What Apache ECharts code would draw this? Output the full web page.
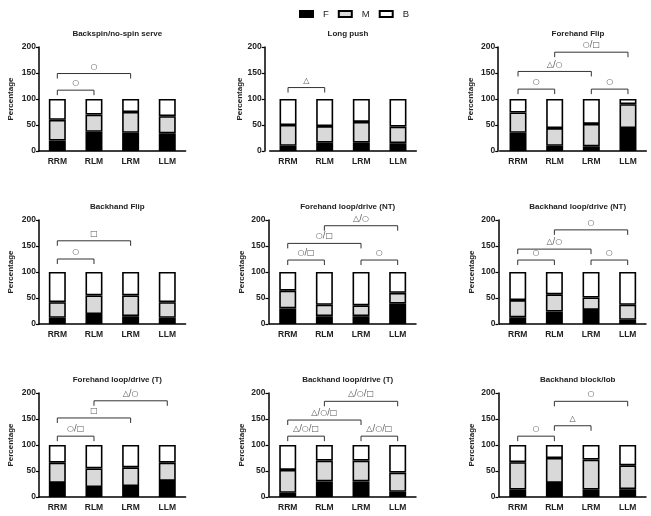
<!DOCTYPE html>
<html>
<head>
<meta charset="utf-8">
<script src="https://cdn.jsdelivr.net/npm/echarts@6/dist/echarts.min.js"></script>
<style>
  html, body { margin: 0; padding: 0; background: #fff; }
  #main { width: 651px; height: 516px; }
</style>
</head>
<body>
<div id="main"></div>
<script>
const categories = ['RRM', 'RLM', 'LRM', 'LLM'];
const yTicks = [0, 50, 100, 150, 200];
const panelTitles = [
  'Backspin/no-spin serve', 'Long push', 'Forehand Flip',
  'Backhand Flip', 'Forehand loop/drive (NT)', 'Backhand loop/drive (NT)',
  'Forehand loop/drive (T)', 'Backhand loop/drive (T)', 'Backhand block/lob'
];

// F / M / B percentages, one row per panel
const fValues = [
  [20, 37, 35, 34],
  [10, 16, 16, 15],
  [35, 10, 9, 44],
  [12, 19, 15, 12],
  [30, 15, 15, 39],
  [13, 24, 27, 8],
  [27, 19, 21, 31],
  [8, 30, 30, 10],
  [14, 27, 14, 15]
];
const mValues = [
  [40, 33, 40, 33],
  [40, 32, 40, 32],
  [39, 34, 43, 46],
  [30, 36, 40, 30],
  [34, 22, 21, 21],
  [33, 33, 24, 29],
  [39, 36, 36, 35],
  [44, 40, 40, 37],
  [53, 48, 58, 46]
];
const bValues = [
  [40, 30, 25, 33],
  [50, 52, 44, 53],
  [26, 56, 48, 10],
  [58, 45, 45, 58],
  [36, 63, 64, 40],
  [54, 43, 49, 63],
  [34, 45, 43, 34],
  [48, 30, 30, 53],
  [33, 25, 28, 39]
];

// significance brackets: [from category, to category, level, marks]
const brackets = [
  [[0, 1, 117, '○'], [0, 2, 149, '○']],
  [[0, 1, 122, '△']],
  [[0, 1, 119, '○'], [2, 3, 119, '○'], [0, 2, 153, '△/○'], [1, 3, 190, '○/□']],
  [[0, 1, 125, '○'], [0, 2, 160, '□']],
  [[0, 1, 123, '○/□'], [2, 3, 123, '○'], [0, 2, 155, '○/□'], [1, 3, 189, '△/○']],
  [[0, 1, 123, '○'], [2, 3, 123, '○'], [0, 2, 144, '△/○'], [1, 3, 181, '○']],
  [[0, 1, 117, '○/□'], [0, 2, 152, '□'], [1, 3, 185, '△/○']],
  [[0, 1, 117, '△/○/□'], [2, 3, 117, '△/○/□'], [0, 2, 148, '△/○/□'], [1, 3, 184, '△/○/□']],
  [[0, 1, 117, '○'], [1, 2, 137, '△'], [1, 3, 184, '○']]
];

const FONT = 'Liberation Sans, Arial, sans-serif';
const rowTops = [47, 220, 393];
const colLefts = [[39, 269.7, 499.7], [39, 269.4, 499.4], [39, 269.4, 499.4]];
const axisOffsets = [[0, 5, 1.5], [0, 1, 1], [0, 1, 1]];
const nameGaps = [[24, 20, 23], [24, 23, 23], [24, 23, 23]];
const gridW = 146.6;
const gridH = 104;

const grids = [], xAxes = [], yAxes = [], titles = [], series = [];

panelTitles.forEach((t, p) => {
  const r = Math.floor(p / 3), c = p % 3;
  const left = colLefts[r][c];
  grids.push({ left: left, top: rowTops[r], width: gridW, height: gridH });
  titles.push({
    text: t,
    left: left + gridW / 2,
    top: rowTops[r] - 22,
    textAlign: 'center',
    textStyle: { fontSize: 8, fontWeight: 'bold', color: '#222', fontFamily: FONT }
  });
  xAxes.push({
    gridIndex: p,
    type: 'category',
    data: categories,
    axisLine: { lineStyle: { color: '#000', width: 1.5 } },
    axisTick: { show: false },
    axisLabel: { fontSize: 8.5, fontWeight: 'bold', color: '#222', margin: 6, fontFamily: FONT }
  });
  yAxes.push({
    gridIndex: p,
    type: 'value',
    min: yTicks[0],
    max: yTicks[yTicks.length - 1],
    interval: 50,
    offset: axisOffsets[r][c],
    name: 'Percentage',
    nameLocation: 'middle',
    nameGap: nameGaps[r][c],
    nameTextStyle: { fontSize: 8, fontWeight: 'bold', color: '#222', fontFamily: FONT },
    axisLine: { show: true, lineStyle: { color: '#000', width: 1.5 } },
    axisTick: { show: true, length: 3, lineStyle: { color: '#000', width: 1.2 } },
    axisLabel: { fontSize: 8.5, fontWeight: 'bold', color: '#222', margin: 3, fontFamily: FONT },
    splitLine: { show: false }
  });

  const barBase = {
    type: 'bar',
    xAxisIndex: p,
    yAxisIndex: p,
    stack: 'p' + p,
    barWidth: 17,
    animation: false
  };
  series.push(Object.assign({}, barBase, {
    name: 'F', data: fValues[p],
    itemStyle: { color: '#000', borderColor: '#000', borderWidth: 1.6 }
  }));
  series.push(Object.assign({}, barBase, {
    name: 'M', data: mValues[p],
    itemStyle: { color: '#d9d9d9', borderColor: '#000', borderWidth: 1.6 }
  }));
  series.push(Object.assign({}, barBase, {
    name: 'B', data: bValues[p],
    itemStyle: { color: '#fff', borderColor: '#000', borderWidth: 1.6 }
  }));

  const list = brackets[p];
  series.push({
    type: 'custom',
    xAxisIndex: p,
    yAxisIndex: p,
    silent: true,
    clip: false,
    animation: false,
    encode: { x: [0, 1], y: 2 },
    data: list.map((b) => [b[0], b[1], b[2]]),
    renderItem: (params, api) => {
      const b = list[params.dataIndex];
      const s = api.coord([b[0], b[2]]);
      const e = api.coord([b[1], b[2]]);
      const tick = 5;
      return {
        type: 'group',
        children: [
          {
            type: 'polyline',
            shape: { points: [[s[0], s[1] + tick], [s[0], s[1]], [e[0], e[1]], [e[0], e[1] + tick]] },
            style: { stroke: '#333', lineWidth: 1, fill: null }
          },
          {
            type: 'text',
            style: {
              text: b[3], x: (s[0] + e[0]) / 2, y: s[1] - 7,
              align: 'center', verticalAlign: 'middle',
              fontSize: 8, fill: '#555', fontFamily: 'DejaVu Sans'
            }
          }
        ]
      };
    }
  });
});

const option = {
  backgroundColor: '#fff',
  animation: false,
  title: titles,
  legend: {
    data: ['F', 'M', 'B'],
    icon: 'rect',
    left: 294,
    top: 4,
    itemWidth: 13,
    itemHeight: 6,
    itemGap: 9,
    textStyle: { fontSize: 9.5, color: '#222', fontFamily: FONT, padding: [0, 0, 0, 5] }
  },
  grid: grids,
  xAxis: xAxes,
  yAxis: yAxes,
  series: series
};

const myChart = echarts.init(document.getElementById('main'));
myChart.setOption(option);
window.addEventListener('resize', () => {
  myChart.resize();
});
</script>
</body>
</html>
